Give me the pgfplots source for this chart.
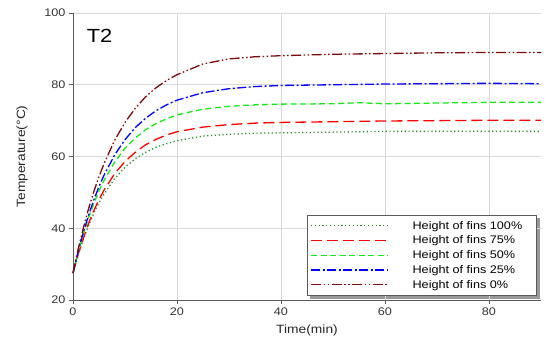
\documentclass[border=0pt]{standalone}
\usepackage{pgfplots}
\pgfplotsset{compat=1.18}
\usetikzlibrary{backgrounds}
\usepackage{graphicx}
\usepackage{fontspec}
\setmainfont{Liberation Sans}
\newcommand\sx[1]{\scalebox{1.15}[1]{#1}}
\definecolor{dgreen}{RGB}{30,140,30}
\definecolor{lgreen}{RGB}{20,235,20}
\definecolor{dred}{RGB}{128,10,10}
\definecolor{axgray}{RGB}{90,90,90}
\begin{document}
\begin{tikzpicture}
\begin{axis}[
  scale only axis, width=468pt, height=287pt,
  xmin=0, xmax=90, ymin=20, ymax=100,
  xtick={0,20,40,60,80}, ytick={20,40,60,80,100},
  xticklabel={\sx{\pgfmathprintnumber[assume math mode=true]{\tick}}},
  yticklabel={\sx{\pgfmathprintnumber[assume math mode=true]{\tick}}},
  axis x line*=bottom, axis y line*=left,
  axis line style={axgray, line width=0.8pt},
  tick style={axgray, line width=0.8pt},
  tick align=outside, major tick length=4pt,
  grid=major, grid style={gray!30, line width=0.6pt},
  tick label style={font=\fontsize{11}{13}\selectfont, text=black!80},
  xlabel={\sx{Time(min)}}, ylabel={\sx{Temperature(°C)}},
  label style={font=\fontsize{12}{14}\selectfont, text=black!85},
  xlabel style={at={(axis description cs:0.5,-0.1045)}, anchor=center},
  ylabel style={at={(axis description cs:-0.109,0.5)}, anchor=center},
  legend cell align=left,
  legend style={name=leg, at={(0.5,0.014)}, anchor=south west, draw=axgray, line width=0.8pt,
    fill=white, font=\fontsize{11}{13}\selectfont, row sep=1.3pt, inner ysep=4pt},
  legend image code/.code={\draw[#1, line width=1.2pt] (0pt,0pt) -- (77pt,0pt);},
  every axis plot/.append style={line width=1.3pt},
  clip=false,
]
\addplot[dgreen, dash pattern=on 1.2pt off 2.6pt] coordinates {
(0,27.5)(1,32.6)(2,37.0)(3,40.8)(4,44.2)(5,47.1)(6,49.6)(8,53.8)(10,57.0)(12,59.4)(14,61.2)(16,62.6)(18,63.6)(20,64.4)(25,65.7)(30,66.2)(35,66.5)(40,66.6)(50,66.8)(60,67.0)(70,67.0)(80,67.0)(90,67.0)};
\addlegendentry{\hspace{22pt}\sx{Height of fins 100\%}\hspace*{9pt}}
\addplot[red, dash pattern=on 11pt off 5pt] coordinates {
(0,27.5)(1,32.7)(2,37.3)(3,41.4)(4,44.9)(5,48.0)(6,50.7)(8,55.2)(10,58.6)(12,61.2)(14,63.3)(16,64.8)(18,66.0)(20,66.9)(25,68.2)(30,68.9)(35,69.3)(40,69.5)(50,69.7)(60,69.9)(70,70.0)(80,70.1)(90,70.1)};
\addlegendentry{\hspace{22pt}\sx{Height of fins 75\%}}
\addplot[lgreen, dash pattern=on 6pt off 3.5pt] coordinates {
(0,27.5)(1,33.3)(2,38.5)(3,43.0)(4,46.9)(5,50.4)(6,53.4)(8,58.4)(10,62.3)(12,65.2)(14,67.5)(16,69.2)(18,70.5)(20,71.6)(25,73.2)(30,74.0)(35,74.4)(40,74.6)(50,74.7)(55,75.0)(60,74.7)(65,74.8)(70,74.9)(80,75.1)(90,75.1)};
\addlegendentry{\hspace{22pt}\sx{Height of fins 50\%}}
\addplot[blue, dash pattern=on 9pt off 2.5pt on 2pt off 2.5pt] coordinates {
(0,27.5)(1,33.6)(2,38.9)(3,43.7)(4,47.9)(5,51.6)(6,54.9)(8,60.4)(10,64.7)(12,68.1)(14,70.7)(16,72.8)(18,74.4)(20,75.7)(25,77.8)(30,78.9)(35,79.5)(40,79.8)(50,80.0)(60,80.2)(70,80.3)(80,80.4)(90,80.3)};
\addlegendentry{\hspace{22pt}\sx{Height of fins 25\%}}
\addplot[dred, dash pattern=on 10pt off 2.5pt on 1.5pt off 2.5pt on 1.5pt off 2.5pt] coordinates {
(0,27.5)(1,34.2)(2,40.1)(3,45.5)(4,50.2)(5,54.4)(6,58.1)(8,64.5)(10,69.5)(12,73.5)(14,76.7)(16,79.2)(18,81.2)(20,82.8)(25,85.8)(30,87.2)(35,87.8)(40,88.1)(50,88.5)(60,88.7)(70,88.9)(80,89.0)(90,89.0)};
\addlegendentry{\hspace{22pt}\sx{Height of fins 0\%}}
\node[anchor=west, font=\fontsize{19}{21}\selectfont] at (rel axis cs:0.022,0.922) {\sx{T2}};
\coordinate (bl) at (rel axis cs:0,0);
\coordinate (tr) at (rel axis cs:1,1);
\end{axis}
\begin{scope}[on background layer]
\fill[gray!80] ([xshift=3pt,yshift=-3pt]leg.south west) rectangle ([xshift=3pt,yshift=-3pt]leg.north east);
\end{scope}
\path ([xshift=-73pt,yshift=-49pt]bl) rectangle ([xshift=6pt,yshift=13pt]tr);
\end{tikzpicture}
\end{document}
